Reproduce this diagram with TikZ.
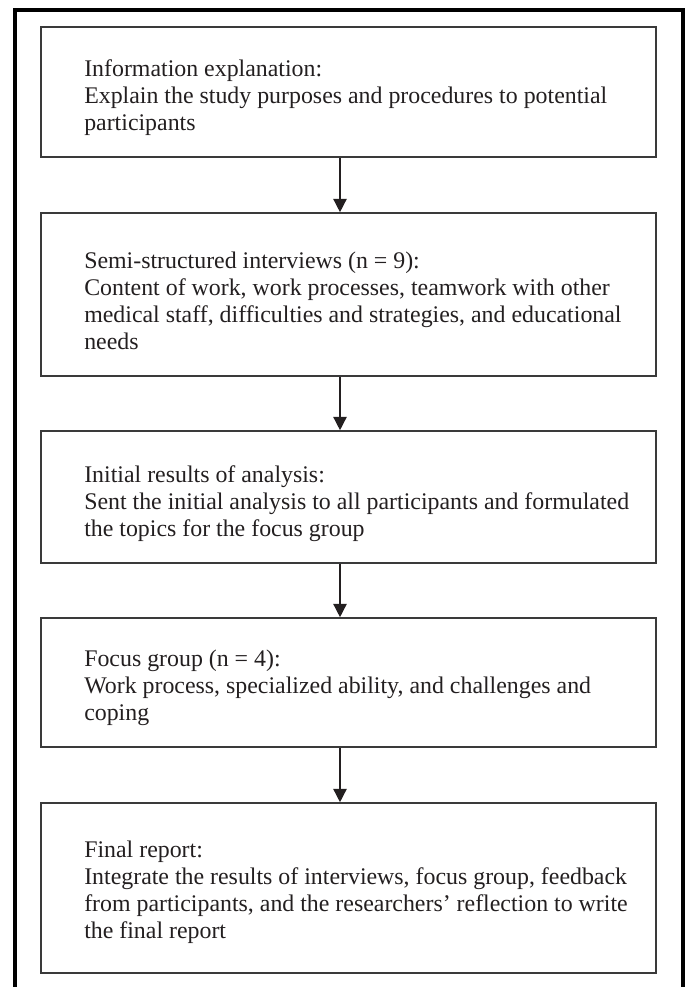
\documentclass[tikz,border=0pt]{standalone}
\usepackage{fontspec}
\setmainfont{Liberation Serif}
\usetikzlibrary{arrows.meta}
\definecolor{ink}{HTML}{231F20}
\definecolor{boxline}{HTML}{3A3A3A}
\begin{document}
\begin{tikzpicture}[x=0.75pt,y=-0.75pt,
  stagebox/.style={draw=boxline,line width=1.2pt,rectangle,minimum width=461.25pt,inner sep=0pt},
  stagetext/.style={anchor=west,align=left,inner sep=0pt,text=ink,font=\fontsize{17.9pt}{20.25pt}\selectfont},
  flowarrow/.style={draw=ink,line width=1.1pt,-{Triangle[width=10pt,length=10pt]}},
  frameline/.style={draw=black,line width=2.3pt}
  ]
\useasboundingbox (0,0) rectangle (688,987);
% outer frame (open at the bottom)
\coordinate (fbl) at (15,987);
\coordinate (ftl) at (15,10);
\coordinate (ftr) at (683,10);
\coordinate (fbr) at (683,987);
\draw[frameline] (fbl) -- (ftl) -- (ftr) -- (fbr);
% boxes
\node[stagebox,minimum height=97.5pt]  (b1) at (348.5,92) {};
\node[stagebox,minimum height=122.25pt] (b2) at (348.5,294.5) {};
\node[stagebox,minimum height=99pt]    (b3) at (348.5,497) {};
\node[stagebox,minimum height=96.75pt] (b4) at (348.5,682.5) {};
\node[stagebox,minimum height=127.5pt] (b5) at (348.5,888) {};
% texts
\node[stagetext] (t1) at (84,98) {Information explanation:\\Explain the study purposes and procedures to potential\\participants};
\node[stagetext] (t2) at (84,301) {Semi-structured interviews (n = 9):\\Content of work, work processes, teamwork with other\\medical staff, difficulties and strategies, and educational\\needs};
\node[stagetext] (t3) at (84,504) {Initial results of analysis:\\Sent the initial analysis to all participants and formulated\\the topics for the focus group};
\node[stagetext] (t4) at (84,688) {Focus group (n = 4):\\Work process, specialized ability, and challenges and\\coping};
\node[stagetext] (t5) at (84,892) {Final report:\\Integrate the results of interviews, focus group, feedback\\from participants, and the researchers’ reflection to write\\the final report};
% arrows
\coordinate (ax) at (340,0);
\draw[flowarrow] (b1.south -| ax) -- (b2.north -| ax);
\draw[flowarrow] (b2.south -| ax) -- (b3.north -| ax);
\draw[flowarrow] (b3.south -| ax) -- (b4.north -| ax);
\draw[flowarrow] (b4.south -| ax) -- (b5.north -| ax);
\end{tikzpicture}
\end{document}
